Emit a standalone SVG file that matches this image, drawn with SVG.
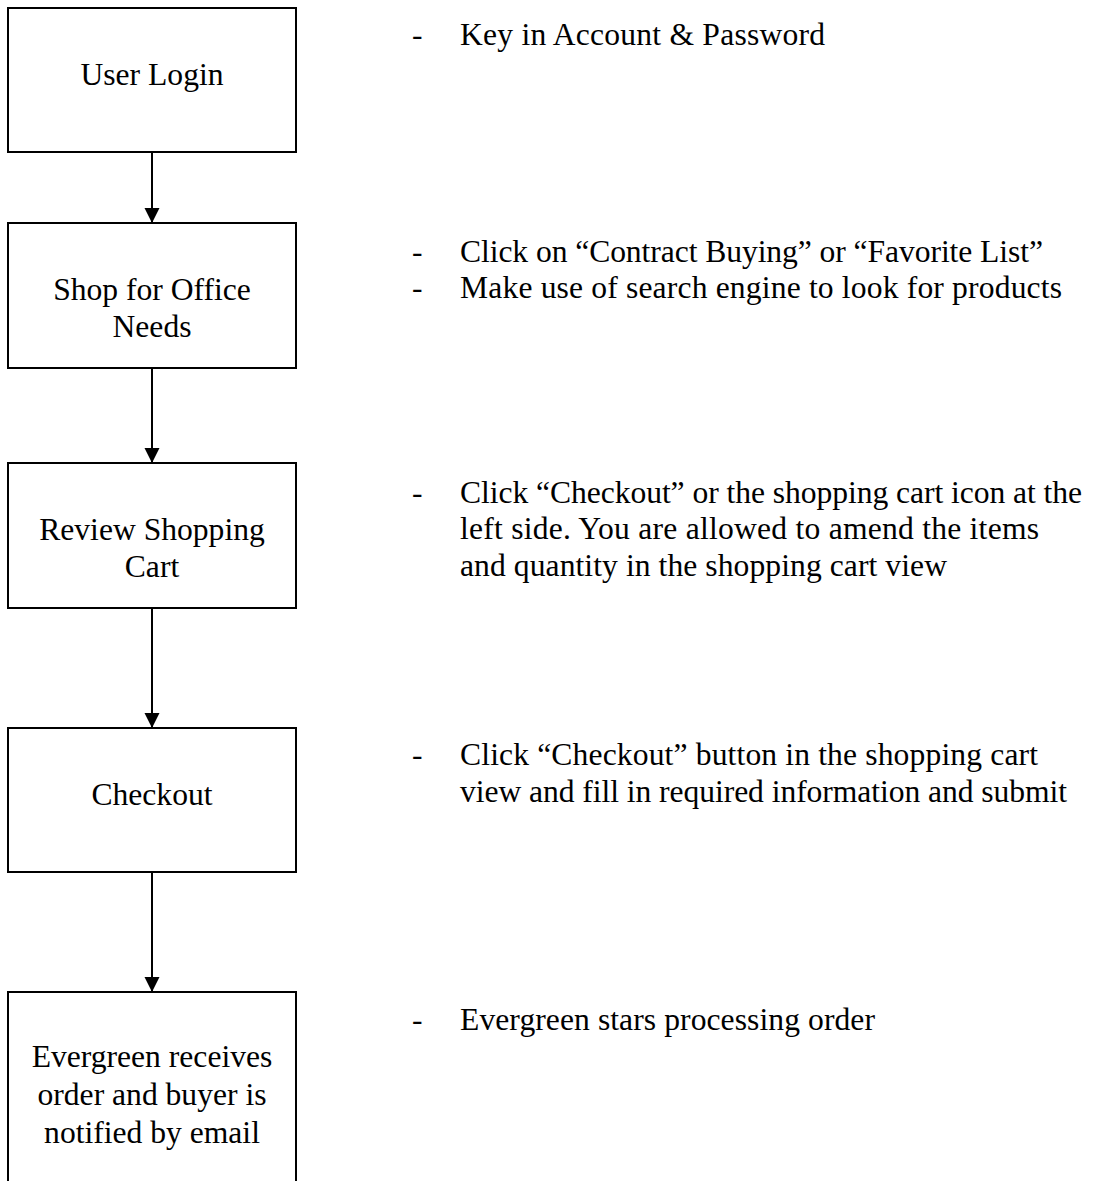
<svg xmlns="http://www.w3.org/2000/svg" width="1099" height="1181" viewBox="0 0 1099 1181">
<style>
.box{fill:#fff;stroke:#000;stroke-width:2}
.t{font-family:"Liberation Serif","Times New Roman",serif;font-size:31.6px;fill:#000}
.c{text-anchor:middle}
.ln{stroke:#000;stroke-width:2;fill:none}
</style>
<defs>
<marker id="ah" markerUnits="userSpaceOnUse" markerWidth="16" markerHeight="16" refX="15" refY="7.5" orient="auto">
<path d="M0,0 L15,7.5 L0,15 Z" fill="#000"/>
</marker>
</defs>
<rect width="1099" height="1181" fill="#fff"/>
<g id="connectors">
<line class="ln" x1="152" y1="152" x2="152" y2="223" marker-end="url(#ah)"/>
<line class="ln" x1="152" y1="368" x2="152" y2="463" marker-end="url(#ah)"/>
<line class="ln" x1="152" y1="608" x2="152" y2="728" marker-end="url(#ah)"/>
<line class="ln" x1="152" y1="872" x2="152" y2="992" marker-end="url(#ah)"/>
</g>
<g id="n1">
<rect class="box" x="8" y="8" width="288" height="144"/>
<text class="t c" x="152" y="85">User Login</text>
</g>
<g id="n2">
<rect class="box" x="8" y="223" width="288" height="145"/>
<text class="t c" x="152" y="300">Shop for Office</text>
<text class="t c" x="152" y="337">Needs</text>
</g>
<g id="n3">
<rect class="box" x="8" y="463" width="288" height="145"/>
<text class="t c" x="152" y="540">Review Shopping</text>
<text class="t c" x="152" y="577">Cart</text>
</g>
<g id="n4">
<rect class="box" x="8" y="728" width="288" height="144"/>
<text class="t c" x="152" y="805">Checkout</text>
</g>
<g id="n5">
<path class="ln" d="M8,1182 V992 H296 V1182"/>
<text class="t c" x="152" y="1067">Evergreen receives</text>
<text class="t c" x="152" y="1105">order and buyer is</text>
<text class="t c" x="152" y="1143">notified by email</text>
</g>
<g id="notes">
<text class="t" x="412" y="45">-</text>
<text class="t" x="460" y="45" textLength="365" lengthAdjust="spacing">Key in Account &amp; Password</text>
<text class="t" x="412" y="262">-</text>
<text class="t" x="460" y="262" textLength="583" lengthAdjust="spacing">Click on “Contract Buying” or “Favorite List”</text>
<text class="t" x="412" y="298">-</text>
<text class="t" x="460" y="298" textLength="602" lengthAdjust="spacing">Make use of search engine to look for products</text>
<text class="t" x="412" y="503">-</text>
<text class="t" x="460" y="503" textLength="622" lengthAdjust="spacing">Click “Checkout” or the shopping cart icon at the</text>
<text class="t" x="460" y="539" textLength="579" lengthAdjust="spacing">left side. You are allowed to amend the items</text>
<text class="t" x="460" y="576" textLength="487" lengthAdjust="spacing">and quantity in the shopping cart view</text>
<text class="t" x="412" y="765">-</text>
<text class="t" x="460" y="765" textLength="578" lengthAdjust="spacing">Click “Checkout” button in the shopping cart</text>
<text class="t" x="460" y="802" textLength="607" lengthAdjust="spacing">view and fill in required information and submit</text>
<text class="t" x="412" y="1030">-</text>
<text class="t" x="460" y="1030" textLength="415" lengthAdjust="spacing">Evergreen stars processing order</text>
</g>
</svg>
